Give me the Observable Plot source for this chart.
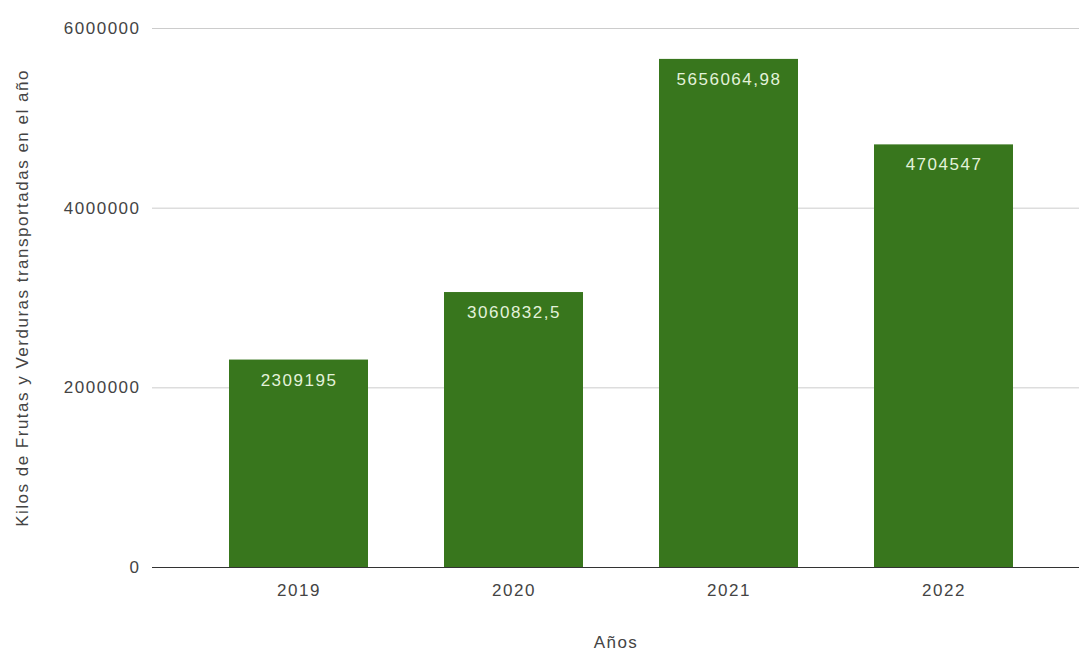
<!DOCTYPE html>
<html>
<head>
<meta charset="utf-8">
<script src="https://cdn.jsdelivr.net/npm/d3@7"></script>
<script src="https://cdn.jsdelivr.net/npm/@observablehq/plot@0.6"></script>
<style>
  html, body { margin: 0; padding: 0; background: #fff; }
</style>
</head>
<body>
<div id="chart"></div>
<script>
const years = ["2019", "2020", "2021", "2022"];
const kilos = [2309195, 3060832.5, 5656064.98, 4704547];
const valueLabels = ["2309195", "3060832,5", "5656064,98", "4704547"];
const yTicks = [0, 2000000, 4000000, 6000000];

const data = years.map((y, i) => ({year: y, kilos: kilos[i], label: valueLabels[i]}));

const chart = Plot.plot({
  width: 1079,
  height: 653,
  marginLeft: 152,
  marginRight: 0,
  marginTop: 28,
  marginBottom: 86,
  style: {fontFamily: "'Liberation Sans', Arial, sans-serif", fontSize: "17px", letterSpacing: "1.5px", color: "#444", background: "#fff"},
  x: {domain: years, padding: 0.355, paddingOuter: 0.33, align: 0.54, label: "Años", labelAnchor: "center", labelArrow: "none", labelOffset: 80, tickSize: 0, tickPadding: 16},
  y: {domain: [0, 6000000], ticks: yTicks, tickFormat: d => String(d), label: "Kilos de Frutas y Verduras transportadas en el año", labelAnchor: "center", labelArrow: "none", labelOffset: 137, tickSize: 0, tickPadding: 12, grid: false},
  marks: [
    Plot.gridY(yTicks, {stroke: "#cccccc", strokeOpacity: 1, strokeWidth: 1}),
    Plot.barY(data, {x: "year", y: "kilos", fill: "#38761d"}),
    Plot.ruleY([0], {stroke: "#333", strokeWidth: 1}),
    Plot.text(data, {x: "year", y: "kilos", text: "label", dy: 20, fill: "#e3f2da", fontSize: 17})
  ]
});
document.getElementById("chart").appendChild(chart);
</script>
</body>
</html>
